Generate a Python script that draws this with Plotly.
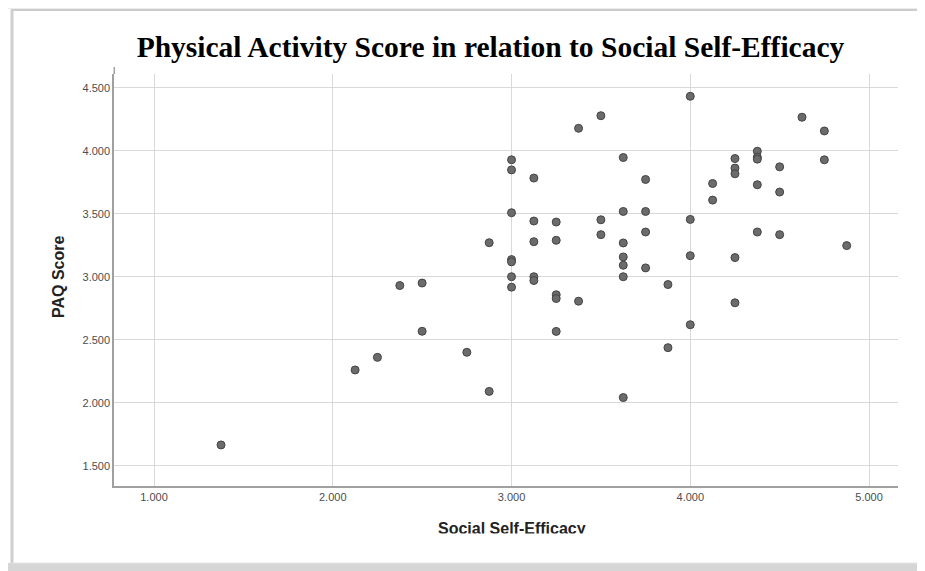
import plotly.graph_objects as go

# ---- data ----
social_self_efficacy = [
    1.375, 2.125, 2.25, 2.375, 2.5, 2.5, 2.75, 2.875, 2.875,
    3.0, 3.0, 3.0, 3.0, 3.0, 3.0, 3.0,
    3.125, 3.125, 3.125, 3.125, 3.125,
    3.25, 3.25, 3.25, 3.25, 3.25,
    3.375, 3.375,
    3.5, 3.5, 3.5,
    3.625, 3.625, 3.625, 3.625, 3.625, 3.625, 3.625,
    3.75, 3.75, 3.75, 3.75,
    3.875, 3.875,
    4.0, 4.0, 4.0, 4.0,
    4.125, 4.125,
    4.25, 4.25, 4.25, 4.25, 4.25,
    4.375, 4.375, 4.375, 4.375, 4.375,
    4.5, 4.5, 4.5,
    4.625, 4.75, 4.75, 4.875,
]
paq_score = [
    1.665, 2.26, 2.36, 2.93, 2.95, 2.567, 2.40, 3.27, 2.09,
    3.928, 3.848, 3.508, 3.136, 3.118, 3.0, 2.917,
    3.783, 3.442, 3.278, 3.0, 2.970,
    3.434, 3.289, 2.857, 2.827, 2.566,
    4.178, 2.806,
    4.278, 3.452, 3.334,
    3.946, 3.518, 3.268, 3.157, 3.091, 3.0, 2.041,
    3.772, 3.518, 3.355, 3.070,
    2.938, 2.437,
    4.432, 3.455, 3.167, 2.619,
    3.740, 3.608,
    3.938, 3.862, 3.817, 3.152, 2.793,
    3.996, 3.949, 3.933, 3.730, 3.355,
    3.872, 3.672, 3.334,
    4.266, 4.157, 3.928, 3.247,
]
x_ticks = [1.0, 2.0, 3.0, 4.0, 5.0]
x_tick_labels = ["1.000", "2.000", "3.000", "4.000", "5.000"]
y_ticks = [1.5, 2.0, 2.5, 3.0, 3.5, 4.0, 4.5]
y_tick_labels = ["1.500", "2.000", "2.500", "3.000", "3.500", "4.000", "4.500"]

title_text = "Physical Activity Score in relation to Social Self-Efficacy"
x_title = "Social Self-Efficacy"
y_title = "PAQ Score"

# ---- layout geometry (page pixels; the page body has an 8px margin) ----
OFF = 8
PAGE_W, PAGE_H = 925, 571
W, H = PAGE_W - OFF, PAGE_H - OFF
L, R, T, B = 114, 898, 74, 486          # plot area in page pixels
pw, ph = R - L, B - T


def px(x):
    return (x - L) / pw


def py(y):
    return (B - y) / ph


fig = go.Figure()
fig.add_trace(go.Scatter(
    x=social_self_efficacy, y=paq_score, mode="markers",
    marker=dict(size=8, color="#6b6b6b", line=dict(color="#444444", width=1)),
    hoverinfo="x+y", showlegend=False,
))

axis_font = dict(family="Arial, Liberation Sans, sans-serif", size=11, color="#4d4d4d")

fig.update_xaxes(
    range=[0.7762, 5.162], tickvals=x_ticks, ticktext=x_tick_labels,
    showgrid=True, gridcolor="#d9d9d9", gridwidth=1,
    showline=True, linecolor="#a0a0a0", linewidth=1.5,
    zeroline=False, ticks="", tickfont=axis_font,
)
fig.update_yaxes(
    range=[1.339, 4.609], tickvals=y_ticks, ticktext=y_tick_labels,
    showgrid=True, gridcolor="#d9d9d9", gridwidth=1,
    showline=True, linecolor="#a0a0a0", linewidth=1.5,
    zeroline=False, ticks="", tickfont=axis_font,
)

shapes = [
    # top shadow band of the picture frame
    dict(type="rect", xref="paper", yref="paper", x0=px(0), x1=px(PAGE_W + 10), y0=py(-10), y1=py(9),
         fillcolor="#ececec", line=dict(width=0), layer="below"),
    dict(type="line", xref="paper", yref="paper", x0=px(11), x1=px(PAGE_W + 10), y0=py(10), y1=py(10),
         line=dict(color="#cccccc", width=2)),
    # left border
    dict(type="line", xref="paper", yref="paper", x0=px(12), x1=px(12), y0=py(10), y1=py(563),
         line=dict(color="#cfcfcf", width=3)),
    # bottom shadow band
    dict(type="rect", xref="paper", yref="paper", x0=px(0), x1=px(PAGE_W + 10), y0=py(563), y1=py(PAGE_H + 10),
         fillcolor="#d6d6d6", line=dict(width=0), layer="below"),
    dict(type="line", xref="paper", yref="paper", x0=px(12), x1=px(PAGE_W + 10), y0=py(563), y1=py(563),
         line=dict(color="#e4e4e4", width=1)),
    # y-axis line extension above the plot area
    dict(type="line", xref="paper", yref="paper", x0=px(114.3), x1=px(114.3), y0=py(74), y1=py(67),
         line=dict(color="#a0a0a0", width=1.5)),
]

annotations = [
    dict(text=y_title, xref="paper", yref="paper", x=px(58), y=py(277),
         xanchor="center", yanchor="middle", textangle=-90, showarrow=False,
         font=dict(family="Arial, Liberation Sans, sans-serif", size=16, color="#222222", weight="bold")),
    dict(text=x_title, xref="paper", yref="paper", x=px(512), y=py(528),
         xanchor="center", yanchor="middle", showarrow=False,
         font=dict(family="Arial, Liberation Sans, sans-serif", size=16, color="#222222", weight="bold")),
    # white cover that clips the lower part of the x-axis title (as in the reference)
    dict(text=" ", xref="paper", yref="paper", x=px(512), y=py(533), xanchor="center", yanchor="top",
         showarrow=False, width=220, height=14, bgcolor="#ffffff", borderpad=0,
         font=dict(size=10)),
]

fig.update_layout(
    width=W, height=H,
    margin=dict(l=L - OFF, r=W - (R - OFF), t=T - OFF, b=H - (B - OFF)),
    paper_bgcolor="#ffffff", plot_bgcolor="#ffffff",
    title=dict(text=title_text, x=(490.5 - OFF) / W, xanchor="center",
               y=1 - (47 - OFF) / H, yanchor="middle",
               font=dict(family="Liberation Serif, Times New Roman, serif", size=29.5,
                         color="#000000", weight="bold")),
    shapes=shapes, annotations=annotations,
)

fig.write_html("out.html")
